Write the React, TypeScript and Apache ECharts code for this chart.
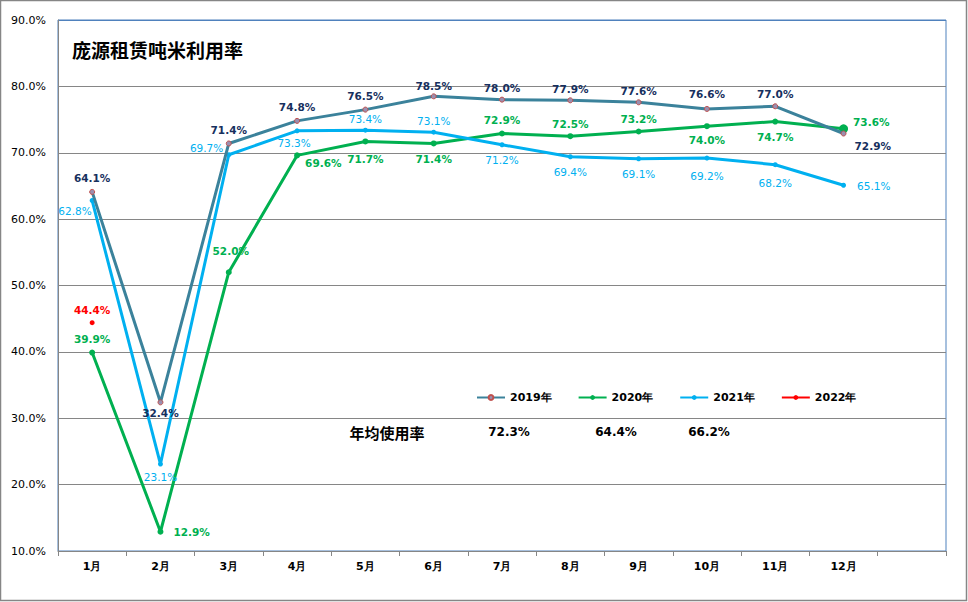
import React, { useEffect, useRef } from "react";
import * as echarts from "echarts";

const categories = ["1月", "2月", "3月", "4月", "5月", "6月", "7月", "8月", "9月", "10月", "11月", "12月", ""];
const seriesNames = ["2019年", "2020年", "2021年", "2022年"];
const values2019 = [64.1, 32.4, 71.4, 74.8, 76.5, 78.5, 78.0, 77.9, 77.6, 76.6, 77.0, 72.9];
const values2020 = [39.9, 12.9, 52.0, 69.6, 71.7, 71.4, 72.9, 72.5, 73.2, 74.0, 74.7, 73.6];
const values2021 = [62.8, 23.1, 69.7, 73.3, 73.4, 73.1, 71.2, 69.4, 69.1, 69.2, 68.2, 65.1];
const values2022 = [44.4];
const avgLabel = "年均使用率";
const avgValues = [72.3, 64.4, 66.2];
const titleText = "庞源租赁吨米利用率";

// label placement styles (not data)
type LP = { position: string; distance?: number; offset?: number[] };
const lp2019: LP[] = [
  { position: "top" }, { position: "bottom", distance: 2 }, { position: "top" }, { position: "top" },
  { position: "top" }, { position: "top", distance: 2 }, { position: "top", distance: 3 }, { position: "top", distance: 3 },
  { position: "top", distance: 3 }, { position: "top", distance: 6 }, { position: "top", distance: 4 },
  { position: "right", offset: [3, 12] },
];
const lp2020: LP[] = [
  { position: "top" }, { position: "right", offset: [5, 0] }, { position: "top", offset: [2, -8] },
  { position: "right", offset: [0, 8] }, { position: "bottom", distance: 9 }, { position: "bottom", distance: 7 },
  { position: "top" }, { position: "top", distance: 4 }, { position: "top", distance: 4 },
  { position: "bottom", distance: 5 }, { position: "bottom", distance: 7 }, { position: "right", offset: [0, -7] },
];
const lp2021: LP[] = [
  { position: "left", offset: [7, 10] }, { position: "bottom", distance: 5 }, { position: "left", offset: [2, -7] },
  { position: "bottom", distance: 4, offset: [-3, 0] }, { position: "top", distance: 3 }, { position: "top", distance: 3 },
  { position: "bottom", distance: 7 }, { position: "bottom", distance: 7 }, { position: "bottom", distance: 7 },
  { position: "bottom", distance: 10 }, { position: "bottom", distance: 10 }, { position: "right", offset: [6, 1] },
];

const FONT = "DejaVu Sans";
const C19 = "#3B829B";
const C20 = "#00B050";
const C21 = "#00B0F0";
const C22 = "#FF0000";
const GRID = "#868686";
const BLUE = "#4F81BD";

function mk(values: number[], lps: LP[]) {
  return values.map((v, i) => ({
    value: v,
    label: { position: lps[i]?.position, distance: lps[i]?.distance ?? 5, offset: lps[i]?.offset },
  }));
}

export default function App() {
  const ref = useRef<HTMLDivElement>(null);
  useEffect(() => {
    document.body.style.margin = "0";
    const chart = echarts.init(ref.current!, null, { renderer: "svg" });
    const pct = (p: any) => Number(p.value).toFixed(1) + "%";
    const d2020 = mk(values2020, lp2020);
    (d2020[11] as any).symbolSize = 9;
    const option: any = {
      animation: false,
      backgroundColor: "#fff",
      grid: { left: 58, right: 22, top: 20, bottom: 51, show: true, borderColor: BLUE, borderWidth: 1 },
      xAxis: {
        type: "category",
        data: categories,
        boundaryGap: true,
        axisLine: { lineStyle: { color: GRID, width: 1 } },
        axisTick: { show: true, length: 5, lineStyle: { color: GRID } },
        axisLabel: { fontFamily: FONT, fontWeight: "bold", fontSize: 11, color: "#000", margin: 10, interval: 0 },
      },
      yAxis: {
        type: "value",
        min: 10,
        max: 90,
        interval: 10,
        axisLine: { show: true, lineStyle: { color: GRID } },
        axisTick: { show: false },
        splitLine: { lineStyle: { color: [GRID, GRID, GRID, GRID, GRID, GRID, GRID, GRID, BLUE], width: 1 } },
        axisLabel: { fontFamily: FONT, fontSize: 11, color: "#000", margin: 12, formatter: (v: number) => v.toFixed(1) + "%" },
      },
      legend: {
        left: 471,
        top: 387,
        itemWidth: 28,
        itemHeight: 6,
        itemGap: 26,
        data: seriesNames,
        textStyle: { fontFamily: FONT, fontWeight: "bold", fontSize: 11, color: "#000" },
      },
      series: [
        {
          name: seriesNames[0], type: "line", data: mk(values2019, lp2019), symbol: "circle", symbolSize: 5,
          lineStyle: { color: C19, width: 3 },
          itemStyle: { color: "#9A8FB0", borderColor: "#C0504D", borderWidth: 1 },
          label: { show: true, formatter: pct, fontFamily: FONT, fontWeight: "bold", fontSize: 10.5, color: "#17305E" },
          z: 3,
        },
        {
          name: seriesNames[1], type: "line", data: d2020, symbol: "circle", symbolSize: 6,
          lineStyle: { color: C20, width: 3 }, itemStyle: { color: C20 },
          label: { show: true, formatter: pct, fontFamily: FONT, fontWeight: "bold", fontSize: 10.5, color: C20 },
          z: 2,
        },
        {
          name: seriesNames[2], type: "line", data: mk(values2021, lp2021), symbol: "circle", symbolSize: 5,
          lineStyle: { color: C21, width: 3 }, itemStyle: { color: C21 },
          label: { show: true, formatter: pct, fontFamily: FONT, fontSize: 10.5, color: C21 },
          z: 2,
        },
        {
          name: seriesNames[3], type: "line", data: values2022, symbol: "circle", symbolSize: 5,
          lineStyle: { color: C22, width: 3 }, itemStyle: { color: C22 },
          label: { show: true, position: "top", formatter: pct, fontFamily: FONT, fontWeight: "bold", fontSize: 10.5, color: C22 },
        },
      ],
      graphic: [
        { type: "rect", shape: { x: 0.5, y: 0.5, width: 966, height: 600 }, style: { fill: "none", stroke: GRID, lineWidth: 1.5 }, silent: true },
        { type: "text", left: 72, top: 40, style: { text: titleText, font: "bold 19px 'Noto Sans CJK SC'", fill: "#000" } },
        { type: "text", x: 387, y: 432, style: { text: avgLabel, font: "bold 15px 'Noto Sans CJK SC'", fill: "#000", align: "center", verticalAlign: "middle" } },
        ...avgValues.map((v, i) => ({
          type: "text", x: [509, 616, 709][i], y: 432,
          style: { text: v.toFixed(1) + "%", font: `bold 12px '${FONT}'`, fill: "#000", align: "center", verticalAlign: "middle" },
        })),
      ],
    };
    chart.setOption(option);
    return () => chart.dispose();
  }, []);
  return <div ref={ref} style={{ width: 968, height: 602 }} />;
}
